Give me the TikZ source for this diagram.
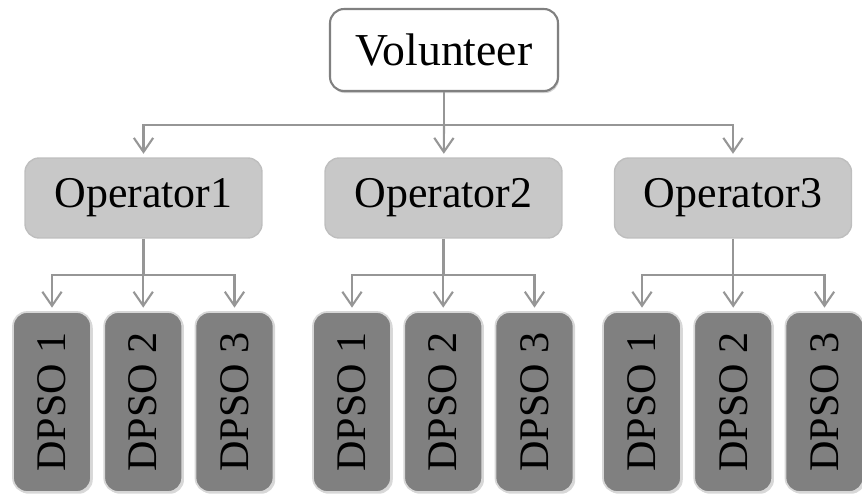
\documentclass[tikz,border=0pt]{standalone}
\usepackage{fontspec}
\setmainfont{Liberation Serif}
\usetikzlibrary{arrows.meta,shadows,positioning}
\definecolor{linegray}{RGB}{150,150,150}
\definecolor{opfill}{RGB}{200,200,200}
\definecolor{opline}{RGB}{190,190,190}
\definecolor{dpfill}{RGB}{128,128,128}
\definecolor{dpline}{RGB}{215,215,215}

\begin{document}
\begin{tikzpicture}[
    x=0.02cm, y=-0.02cm,
    volbox/.style={draw=black!50, line width=1.2pt, rounded corners=8pt, fill=white,
      minimum width=4.56cm, minimum height=1.64cm, font=\fontsize{26}{30}\selectfont,
      drop shadow={opacity=0.35, shadow xshift=0.6pt, shadow yshift=-1.2pt}},
    opbox/.style={draw=opline, line width=0.8pt, rounded corners=8pt, fill=opfill,
      minimum width=4.74cm, minimum height=1.6cm, font=\fontsize{25}{30}\selectfont},
    dpbox/.style={draw=dpline, line width=1pt, rounded corners=8pt, fill=dpfill,
      minimum width=1.56cm, minimum height=3.6cm, inner sep=0pt,
      font=\fontsize{24}{28}\selectfont,
      drop shadow={opacity=0.3, shadow xshift=1pt, shadow yshift=-1pt}},
    link/.style={draw=linegray, line width=1.2pt},
    arrow/.style={link, -{Straight Barb[length=8pt, width=11pt, line width=1.2pt]},
      shorten >=2pt}
  ]
    \useasboundingbox (0,0) rectangle (862,497);

    % Top: volunteer
    \node[volbox] (vol) at (444,50) {Volunteer};

    % Middle: operators
    \node[opbox] (op1) at (143.5,198) {Operator1};
    \node[opbox] (op2) at (443.5,198) {Operator2};
    \node[opbox] (op3) at (733,198) {Operator3};

    % Bottom: DPSO boxes
    \node[dpbox] (d11) at (52,402) {\rotatebox{90}{DPSO 1}};
    \node[dpbox, right=0.23cm of d11] (d12) {\rotatebox{90}{DPSO 2}};
    \node[dpbox, right=0.23cm of d12] (d13) {\rotatebox{90}{DPSO 3}};

    \node[dpbox] (d21) at (352,402) {\rotatebox{90}{DPSO 1}};
    \node[dpbox, right=0.23cm of d21] (d22) {\rotatebox{90}{DPSO 2}};
    \node[dpbox, right=0.23cm of d22] (d23) {\rotatebox{90}{DPSO 3}};

    \node[dpbox] (d31) at (642,402) {\rotatebox{90}{DPSO 1}};
    \node[dpbox, right=0.23cm of d31] (d32) {\rotatebox{90}{DPSO 2}};
    \node[dpbox, right=0.23cm of d32] (d33) {\rotatebox{90}{DPSO 3}};

    % Junctions
    \coordinate (j0) at (444,125);
    \coordinate (j1) at (143.5,275);
    \coordinate (j2) at (443.5,275);
    \coordinate (j3) at (733,275);

    % Arrows
    \draw[link] (vol) -- (j0);
    \draw[arrow] (j0) -| (op1);
    \draw[arrow] (j0) -- (op2);
    \draw[arrow] (j0) -| (op3);

    \draw[link] (op1) -- (j1);
    \draw[arrow] (j1) -| (d11);
    \draw[arrow] (j1) -| (d12);
    \draw[arrow] (j1) -| (d13);

    \draw[link] (op2) -- (j2);
    \draw[arrow] (j2) -| (d21);
    \draw[arrow] (j2) -| (d22);
    \draw[arrow] (j2) -| (d23);

    \draw[link] (op3) -- (j3);
    \draw[arrow] (j3) -| (d31);
    \draw[arrow] (j3) -| (d32);
    \draw[arrow] (j3) -| (d33);
  \end{tikzpicture}
\end{document}
